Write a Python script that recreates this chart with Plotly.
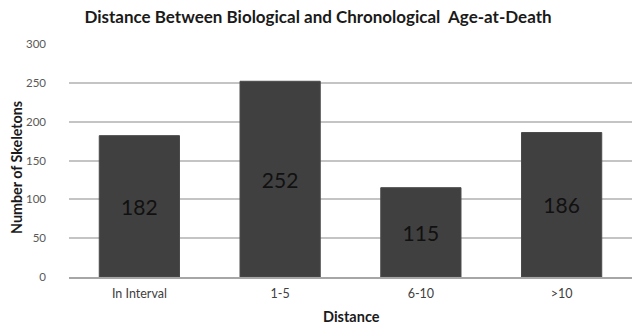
import plotly.graph_objects as go

categories = ["In Interval", "1-5", "6-10", ">10"]
counts = [182, 252, 115, 186]
y_ticks = [0, 50, 100, 150, 200, 250, 300]

FONT = "Lato"

fig = go.Figure(
    go.Bar(
        x=categories,
        y=counts,
        text=[str(v) for v in counts],
        textposition="inside",
        insidetextanchor="middle",
        textfont=dict(family=FONT, size=21, color="#111111"),
        marker=dict(color="#404040", line=dict(color="#4a4a4a", width=1)),
        cliponaxis=False,
    )
)

fig.update_layout(
    width=632,
    height=324,
    margin=dict(l=69, r=0, t=44, b=47),
    paper_bgcolor="white",
    plot_bgcolor="white",
    bargap=0.43,
    showlegend=False,
    font=dict(family=FONT, color="#404040"),
    title=dict(
        text="<b>Distance Between Biological and Chronological  Age-at-Death</b>",
        x=318 / 632,
        xanchor="center",
        xref="container",
        y=1 - 17 / 324,
        yanchor="middle",
        yref="container",
        font=dict(family=FONT, size=17, color="#1a1a1a"),
    ),
    xaxis=dict(
        showgrid=False,
        showline=True,
        linecolor="#a6a6a6",
        linewidth=1.5,
        ticks="",
        ticklabelstandoff=4,
        tickfont=dict(family=FONT, size=12.5, color="#404040"),
    ),
    yaxis=dict(
        range=[0, 300],
        tickvals=y_ticks,
        showgrid=True,
        gridcolor="#c4c4c4",
        gridwidth=1.5,
        zeroline=False,
        showline=False,
        ticks="",
        ticklabelstandoff=22,
        tickfont=dict(family=FONT, size=11.5, color="#595959"),
    ),
    annotations=[
        dict(
            text="<b>Number of Skeletons</b>",
            xref="paper",
            yref="paper",
            x=0,
            y=(277 - 168) / 233,
            xanchor="center",
            yanchor="middle",
            xshift=-53,
            textangle=-90,
            showarrow=False,
            font=dict(family=FONT, size=14.3, color="#1a1a1a"),
        ),
        dict(
            text="<b>Distance</b>",
            xref="paper",
            yref="paper",
            x=(352 - 69) / 563,
            y=0,
            xanchor="center",
            yanchor="middle",
            yshift=-39,
            showarrow=False,
            font=dict(family=FONT, size=14.5, color="#1a1a1a"),
        ),
    ],
)

fig.write_html("out.html")
